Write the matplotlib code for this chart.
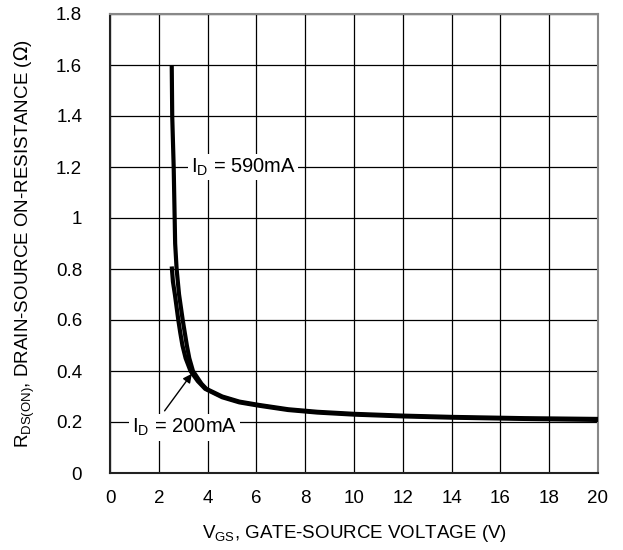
import numpy as np
import matplotlib.pyplot as plt

plt.rcParams['font.family'] = ['Liberation Sans', 'DejaVu Sans']

# R_DS(on) vs V_GS
vgs_590 = [2.53, 2.55, 2.61, 2.65, 2.67, 2.73, 2.83, 2.98, 3.15, 3.25, 3.4, 3.75, 3.95,
           4.6, 5.3, 6.1, 7.3, 8.5, 10.0, 12.0, 14.0, 17.0, 20.0]
rds_590 = [1.6, 1.4, 1.2, 1.0, 0.9, 0.8, 0.7, 0.6, 0.5, 0.45, 0.4, 0.35, 0.33,
           0.30, 0.28, 0.267, 0.25, 0.24, 0.232, 0.225, 0.22, 0.215, 0.212]

vgs_200 = [2.53, 2.58, 2.66, 2.8, 2.88, 2.97, 3.1, 3.3, 3.6, 3.9,
           4.6, 5.3, 6.1, 7.3, 8.5, 10.0, 12.0, 14.0, 17.0, 20.0]
rds_200 = [0.81, 0.75, 0.7, 0.6, 0.55, 0.5, 0.45, 0.4, 0.36, 0.33,
           0.297, 0.277, 0.264, 0.247, 0.237, 0.229, 0.222, 0.217, 0.212, 0.208]

xticks = np.arange(0, 21, 2)
yticks = [0, 0.2, 0.4, 0.6, 0.8, 1, 1.2, 1.4, 1.6, 1.8]
ytick_labels = ['0', '0.2', '0.4', '0.6', '0.8', '1', '1.2', '1.4', '1.6', '1.8']

fig = plt.figure(figsize=(6.23, 5.5), dpi=100)
ax = fig.add_axes([110/623, 1 - 473/550, 488/623, 459/550])

ax.plot(vgs_590, rds_590, color='black', lw=3.0, solid_capstyle='butt',
        solid_joinstyle='round', zorder=3)
ax.plot(vgs_200, rds_200, color='black', lw=3.0, solid_capstyle='butt',
        solid_joinstyle='round', zorder=3)

ax.set_xlim(0, 20)
ax.set_ylim(0, 1.8)
ax.set_xticks(xticks)
ax.set_yticks(yticks)
ax.set_yticklabels(ytick_labels)
ax.tick_params(length=0, labelsize=13.5)
ax.tick_params(axis='y', pad=20)
ax.tick_params(axis='x', pad=12)
ax.grid(True, color='black', lw=0.9)
ax.set_axisbelow(True)

for side in ['top', 'right']:
    ax.spines[side].set_color('#888888')
    ax.spines[side].set_linewidth(1.5)
for side in ['left', 'bottom']:
    ax.spines[side].set_color('#222222')
    ax.spines[side].set_linewidth(1.5)

ax.set_xlabel(r'V$_{\mathregular{GS}}$, GATE-SOURCE VOLTAGE (V)', fontsize=13.5, labelpad=12)
ax.set_ylabel(r'R$_{\mathregular{DS(ON)}}$, DRAIN-SOURCE ON-RESISTANCE ($\Omega$)',
              fontsize=13.5, labelpad=14)

box = dict(facecolor='white', edgecolor='none', pad=2)
ax.text(3.3, 1.2, r'I$_{\mathregular{D}}$ = 590mA', fontsize=14.5, va='center', ha='left',
        bbox=box, zorder=4)
ax.text(0.9, 0.178, r'I$_{\mathregular{D}}$ = 200mA', fontsize=14.5, va='center', ha='left',
        bbox=box, zorder=4)
ax.annotate('', xy=(3.42, 0.398), xytext=(2.17, 0.235),
            arrowprops=dict(arrowstyle='-|>', color='black', lw=1, mutation_scale=13), zorder=4)

fig.savefig('out.png', dpi=100)
